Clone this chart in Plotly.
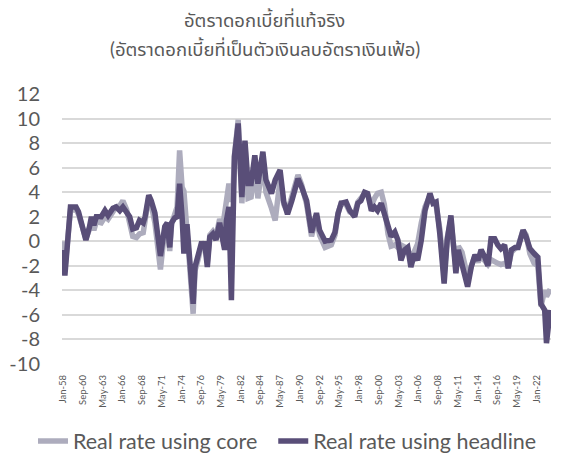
import plotly.graph_objects as go

months = ["1958-01","1958-04","1959-01","1959-10","1960-02","1960-11","1961-02","1961-08","1961-11","1962-03",
"1962-07","1963-03","1963-09","1964-02","1964-10","1965-03","1965-09","1966-02","1966-08","1967-01",
"1967-06","1967-12","1968-05","1968-11","1969-02","1969-08","1969-12","1970-06","1971-03","1971-10",
"1972-02","1972-06","1972-09","1973-02","1973-06","1973-10","1974-02","1974-05","1974-10","1975-02",
"1975-08","1975-11","1976-04","1976-09","1977-03","1977-07","1977-11","1978-04","1978-09","1979-03",
"1979-08","1979-11","1980-02","1980-06","1980-10","1981-01","1981-03","1981-09","1982-03","1982-08",
"1983-01","1983-06","1983-12","1984-05","1985-01","1985-06","1986-03","1986-09","1987-05","1987-11",
"1988-05","1988-12","1989-10","1990-04","1990-12","1991-08","1992-04","1992-09","1993-06","1994-04",
"1994-10","1995-03","1995-08","1996-04","1996-10","1997-06","1997-11","1998-04","1998-10","1999-03",
"1999-09","2000-02","2000-07","2001-01","2001-06","2001-12","2002-05","2002-11","2003-04","2003-09",
"2004-03","2004-08","2005-01","2005-07","2005-12","2006-06","2006-12","2007-08","2008-01","2008-06",
"2008-12","2009-07","2009-12","2010-06","2010-09","2011-02","2011-06","2011-12","2012-05","2012-09",
"2013-03","2013-09","2014-02","2014-07","2015-01","2015-06","2015-11","2016-05","2016-10","2017-03",
"2017-09","2018-03","2018-08","2019-02","2019-07","2020-03","2020-08","2021-02","2021-09","2022-03",
"2022-08","2023-02","2023-05","2023-11"]

headline = [-0.7,-2.8,2.8,2.8,2.4,0.9,0.1,1.2,2.0,1.3,
2.0,2.0,2.5,2.1,2.7,2.8,2.5,2.8,2.3,2.0,
1.0,1.1,1.7,1.5,2.0,3.75,3.3,2.3,-1.2,1.2,
1.5,-0.5,1.5,1.9,2.0,4.7,2.0,-1.0,1.4,-1.3,
-5.1,-2.1,-1.3,-0.2,-0.2,-2.1,0.35,0.6,0.1,1.5,
0.1,-0.7,1.7,2.8,-4.8,2.0,6.9,9.6,3.6,8.2,
4.7,4.7,7.0,4.7,7.3,5.0,3.9,5.0,5.8,3.2,
2.2,3.3,5.1,4.4,3.3,0.7,2.3,0.9,0.0,0.1,
0.75,2.25,3.1,3.2,2.5,2.0,3.1,3.3,4.0,3.9,
2.5,2.8,2.5,3.1,2.25,0.9,0.4,0.75,0.1,-1.55,
-0.7,-0.5,-2.1,-1.0,-1.55,0.1,2.5,3.9,3.1,3.2,
0.6,-3.45,0.1,2.1,-0.2,-2.6,-0.7,-1.9,-2.7,-3.7,
-2.1,-1.1,-1.55,-0.7,-1.3,-2.0,0.2,0.2,-0.3,-0.6,
-0.3,-2.2,-0.7,-0.5,-0.5,0.9,0.35,-0.6,-1.0,-1.3,
-5.1,-5.6,-8.3,-5.6]

core = [0.0,-2.3,2.5,2.6,2.2,0.6,0.2,1.0,1.6,0.9,
1.6,1.5,2.0,1.8,2.4,2.8,2.9,3.3,2.6,1.6,
0.4,0.3,0.6,0.7,1.5,3.6,3.0,1.5,-2.3,1.0,
1.4,-0.8,1.4,2.2,2.8,7.4,4.4,4.1,1.2,-1.8,
-5.9,-2.4,-1.5,-0.4,-0.1,-1.7,0.5,0.8,0.4,1.8,
1.2,2.5,3.6,4.7,3.2,4.5,7.0,9.9,3.1,7.8,
3.5,3.6,6.2,3.5,6.6,4.0,2.7,1.7,5.0,3.0,
2.4,3.5,5.4,4.6,3.0,0.4,2.0,0.5,-0.5,-0.3,
0.5,2.3,3.1,3.0,2.4,2.3,3.2,3.5,3.9,3.8,
2.9,3.5,3.9,4.0,3.0,0.6,-0.4,-0.3,-0.5,-0.3,
-0.4,-0.6,-1.5,-0.8,-0.2,1.5,2.8,3.7,3.1,2.9,
1.0,-2.8,0.3,1.8,0.0,-2.2,-0.4,-0.9,-2.0,-3.2,
-2.0,-1.2,-1.7,-1.2,-1.6,-1.9,-1.5,-1.7,-1.8,-1.9,
-1.8,-2.1,-0.9,-0.6,-0.4,0.9,0.5,-1.0,-1.8,-2.0,
-5.3,-4.0,-4.5,-3.9]

y_ticks = [12, 10, 8, 6, 4, 2, 0, -2, -4, -6, -8, -10]
y_tick_text = ["12", "10", "8", "6", "4", "2", "0", "-2", "-4", "-6", "-8", "-10"]

series_names = ["Real rate using core", "Real rate using headline"]
title_line1 = "อัตราดอกเบี้ยที่แท้จริง"
title_line2 = "(อัตราดอกเบี้ยที่เป็นตัวเงินลบอัตราเงินเฟ้อ)"

GREY = "#595959"
GRID = "#D9D9D9"
FONT = "Lato, Noto Sans Thai, sans-serif"
PAD = "\u00a0\u00a0"

fig = go.Figure()
fig.add_trace(go.Scatter(x=months, y=core, mode="lines", name=series_names[0] + PAD,
                         line=dict(color="#ADACBD", width=5.5)))
fig.add_trace(go.Scatter(x=months, y=headline, mode="lines", name=series_names[1],
                         line=dict(color="#594E78", width=5.5)))

plot_h = 458 - 94 - 94
def py(pix):
    return (458 - 94 - pix) / plot_h
def px(pix):
    return (pix - 62) / (574 - 62 - 23)

xrange = ["1957-11-10", "2023-12-10"]
fig.update_layout(
    width=574, height=458,
    margin=dict(l=62, r=23, t=94, b=94, autoexpand=False),
    paper_bgcolor="white", plot_bgcolor="white",
    font=dict(family=FONT, color=GREY),
    showlegend=True,
    legend=dict(orientation="h", x=px(33), xanchor="left", y=py(441), yanchor="middle",
                font=dict(size=21.5, color=GREY), tracegroupgap=0),
    xaxis=dict(type="date", range=xrange, tick0="1958-01-01", dtick="M32", tickformat="%b-%y",
               tickangle=-90, tickfont=dict(size=9.5, color=GREY), showgrid=False, zeroline=False,
               showline=False, ticks="", ticklabelstandoff=8, automargin=False),
    xaxis2=dict(type="date", range=xrange, tick0="1958-01-01", dtick="M32", overlaying="x",
                anchor="free", position=10/22, side="bottom", showticklabels=False,
                ticks="outside", ticklen=4, tickcolor=GRID, tickwidth=1.5, showline=True,
                linecolor=GRID, linewidth=1.5, showgrid=False, zeroline=False),
    yaxis=dict(range=[-10, 12], tickvals=y_ticks, ticktext=y_tick_text, showgrid=True,
               gridcolor=GRID, gridwidth=1.5, zeroline=False, showline=False, automargin=False,
               tickfont=dict(size=20, color=GREY), ticklabelstandoff=21),
)
fig.add_annotation(text=title_line1, x=px(264), y=py(20), xref="paper", yref="paper",
                   showarrow=False, yanchor="middle", font=dict(size=18.5, color=GREY))
fig.add_annotation(text=title_line2, x=px(265), y=py(49), xref="paper", yref="paper",
                   showarrow=False, yanchor="middle", font=dict(size=18.5, color=GREY))

fig.write_html("out.html", config={"displayModeBar": False},
               post_script="document.body.style.margin='0px';")
